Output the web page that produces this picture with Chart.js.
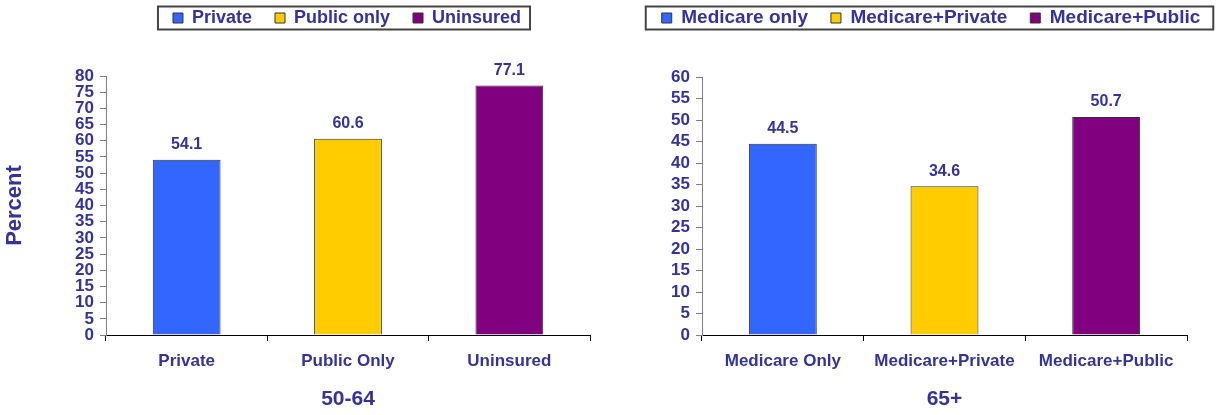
<!DOCTYPE html>
<html>
<head>
<meta charset="utf-8">
<script src="https://cdn.jsdelivr.net/npm/chart.js@4.4.1/dist/chart.umd.min.js"></script>
<style>
  html, body { margin: 0; padding: 0; background: #fff; }
  #wrap { position: relative; width: 1222px; height: 415px; }
  canvas { position: absolute; top: 0; }
</style>
</head>
<body>
<div id="wrap">
  <canvas id="c1" width="600" height="415" style="left:0"></canvas>
  <canvas id="c2" width="622" height="415" style="left:600px"></canvas>
</div>
<script>
// data
var leftCats = ['Private', 'Public Only', 'Uninsured'];
var leftLegend = ['Private', 'Public only', 'Uninsured'];
var leftValues = [54.1, 60.6, 77.1];
var leftTitle = '50-64';
var leftMax = 80;

var rightCats = ['Medicare Only', 'Medicare+Private', 'Medicare+Public'];
var rightLegend = ['Medicare only', 'Medicare+Private', 'Medicare+Public'];
var rightValues = [44.5, 34.6, 50.7];
var rightTitle = '65+';
var rightMax = 60;

var tickStep = 5;
var barColors = ['#3366ff', '#ffcc00', '#800080'];

var fam = '"Liberation Sans", Arial, sans-serif';
var ink = '#333399';

// moves the legend where the original had it and boxes it in
var legendPlace = {
    id: 'legendPlace',
    afterLayout: function(chart, args, o) {
        var lg = chart.legend;
        var hb = lg.legendHitBoxes;
        if (!hb || !hb.length) return;
        var pad = lg.options.labels.padding;
        var dy = o.centerY - (lg.top + pad + hb[0].height / 2);
        lg.left += o.dx; lg.right += o.dx;
        lg.top += dy; lg.bottom += dy;
    },
    afterDraw: function(chart, args, o) {
        var hb = chart.legend.legendHitBoxes;
        var first = hb[0], last = hb[hb.length - 1];
        var x0 = first.left - o.boxLeft;
        var x1 = last.left + last.width + o.boxRight;
        var ctx = chart.ctx;
        ctx.save();
        ctx.strokeStyle = '#444';
        ctx.lineWidth = 2;
        ctx.strokeRect(x0, o.centerY - 11.5, x1 - x0, 23);
        ctx.restore();
    }
};

// value above each bar
var valueLabels = {
    id: 'valueLabels',
    afterDatasetsDraw: function(chart) {
        var meta = chart.getDatasetMeta(0);
        var vals = chart.data.datasets[0].data;
        var ctx = chart.ctx;
        ctx.save();
        ctx.font = 'bold 16px ' + fam;
        ctx.fillStyle = ink;
        ctx.textAlign = 'center';
        ctx.textBaseline = 'middle';
        meta.data.forEach(function(bar, i) {
            ctx.fillText(vals[i].toFixed(1), bar.x, bar.y - 15);
        });
        ctx.restore();
    }
};

function makeChart(id, cfg) {
    var scales = {
        x: {
            border: { color: '#000', width: 1 },
            grid: { drawOnChartArea: false, tickLength: 6, color: '#000', offset: true },
            ticks: { padding: 10, color: ink, autoSkip: false, maxRotation: 0,
                     font: { size: 17, weight: 'bold', family: fam } },
            title: { display: true, text: cfg.title, color: ink,
                     font: { size: 21, weight: 'bold', family: fam },
                     padding: { top: 0, bottom: 3 } },
            afterFit: function(s) { s.height = 80; }
        },
        y: {
            min: 0, max: cfg.max,
            border: { color: '#808080', width: 1 },
            grid: { drawOnChartArea: false, tickLength: 6, color: '#808080' },
            ticks: { stepSize: tickStep, autoSkip: false, maxTicksLimit: 40, padding: 6, color: ink,
                     font: { size: 17, weight: 'bold', family: fam } },
            title: { display: !!cfg.yTitle, text: cfg.yTitle || '', color: ink,
                     font: { size: 22, weight: 'bold', family: fam },
                     padding: { top: 2, bottom: 0 } },
            afterFit: function(s) { s.width = cfg.yWidth; }
        }
    };
    if (cfg.rightGap) {
        scales.pad = {
            type: 'linear', position: 'right', display: true,
            grid: { display: false }, border: { display: false }, ticks: { display: false },
            afterFit: function(s) { s.width = cfg.rightGap; }
        };
    }

    return new Chart(document.getElementById(id), {
        type: 'bar',
        data: {
            labels: cfg.cats,
            datasets: [{
                data: cfg.values,
                backgroundColor: barColors,
                borderColor: '#333',
                borderWidth: 1,
                categoryPercentage: 1,
                barPercentage: 0.42
            }]
        },
        options: {
            responsive: false,
            animation: false,
            layout: { padding: { top: 25, right: cfg.padRight, left: 0, bottom: 0 } },
            plugins: {
                tooltip: { enabled: false },
                legend: {
                    position: 'top',
                    labels: {
                        boxWidth: 10, boxHeight: 10, padding: 23, color: ink,
                        font: { size: cfg.legendSize, weight: 'bold', family: fam },
                        generateLabels: function() {
                            return cfg.legend.map(function(t, i) {
                                return { text: t, fillStyle: barColors[i], strokeStyle: '#333',
                                         lineWidth: 1, hidden: false, index: i, fontColor: ink };
                            });
                        }
                    }
                },
                legendPlace: cfg.place
            },
            scales: scales
        },
        plugins: [legendPlace, valueLabels]
    });
}

makeChart('c1', {
    cats: leftCats, legend: leftLegend, values: leftValues, title: leftTitle, max: leftMax,
    yTitle: 'Percent', yWidth: 106, padRight: 10, rightGap: 0, legendSize: 18,
    place: { dx: 52, centerY: 18, boxLeft: 15, boxRight: 9 }
});

makeChart('c2', {
    cats: rightCats, legend: rightLegend, values: rightValues, title: rightTitle, max: rightMax,
    yTitle: '', yWidth: 102, padRight: 0, rightGap: 35, legendSize: 19,
    place: { dx: 20, centerY: 18, boxLeft: 16, boxRight: 13 }
});
</script>
</body>
</html>
